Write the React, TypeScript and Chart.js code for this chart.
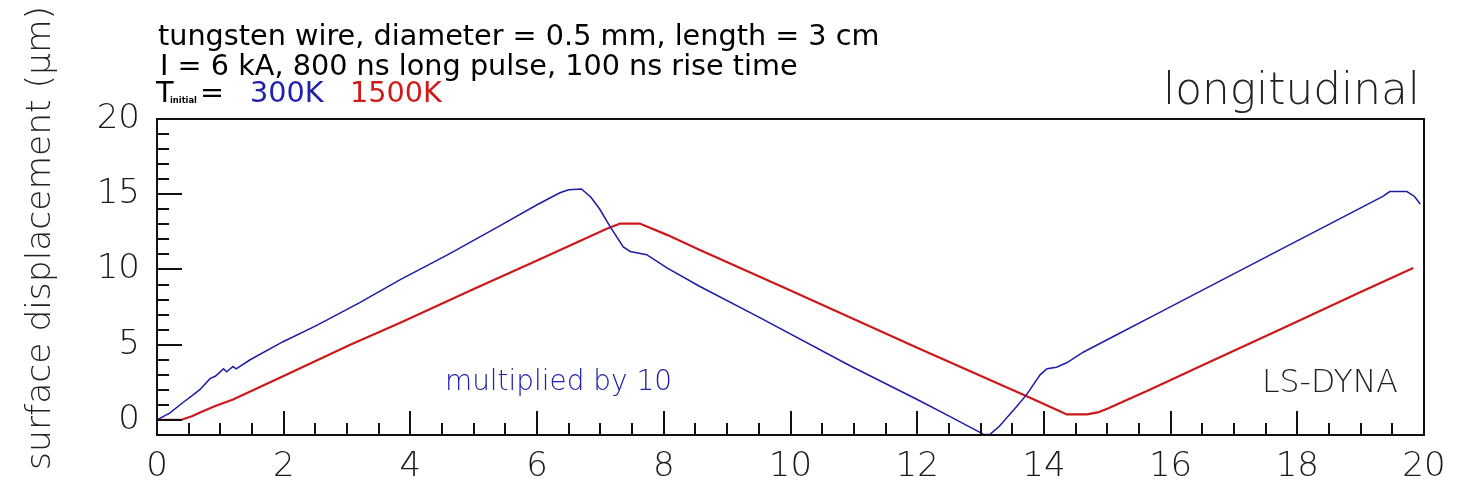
import React, { useEffect, useRef } from "react";
import { Chart, registerables } from "chart.js";

Chart.register(...registerables);

// ---- data ----
const blueX = [0, 0.2, 0.41, 0.55, 0.68, 0.84, 0.92, 0.99, 1.05, 1.1, 1.2, 1.25, 1.47, 1.99, 2.53, 3.2, 3.84, 4.6, 5.41, 6.0, 6.36, 6.5, 6.7, 6.85, 6.99, 7.15, 7.36, 7.47, 7.73, 8.05, 8.57, 9.5, 10.94, 12.0, 12.52, 12.99, 13.05, 13.15, 13.3, 13.57, 13.73, 13.94, 14.05, 14.2, 14.36, 14.62, 15.15, 15.67, 16.2, 17.77, 18.5, 19.35, 19.46, 19.73, 19.85, 19.94];
const blueY = [0, 0.45, 1.16, 1.6, 2.03, 2.76, 2.9, 3.16, 3.4, 3.2, 3.55, 3.4, 4.0, 5.2, 6.3, 7.8, 9.33, 11.0, 12.9, 14.3, 15.1, 15.3, 15.35, 14.8, 14.0, 12.86, 11.5, 11.2, 10.98, 10.1, 8.87, 6.83, 3.6, 1.36, 0.22, -0.83, -0.96, -0.96, -0.4, 0.9, 1.7, 3.0, 3.4, 3.5, 3.8, 4.5, 5.66, 6.8, 7.96, 11.4, 13.0, 14.86, 15.18, 15.18, 14.85, 14.35];

const redX = [0, 0.2, 0.4, 0.55, 0.68, 0.9, 1.2, 1.99, 3.05, 3.84, 5.0, 6.0, 7.1, 7.31, 7.62, 8.05, 8.57, 10.0, 12.0, 13.31, 13.73, 14.2, 14.36, 14.68, 14.85, 15.0, 15.67, 16.46, 17.77, 19.0, 19.83];
const redY = [0, 0, 0.03, 0.25, 0.5, 0.9, 1.36, 2.9, 5.0, 6.46, 8.7, 10.6, 12.7, 13.05, 13.05, 12.3, 11.3, 8.6, 4.8, 2.36, 1.57, 0.68, 0.37, 0.37, 0.5, 0.75, 2.0, 3.55, 6.1, 8.5, 10.1];

const xMajorTicks = [0, 2, 4, 6, 8, 10, 12, 14, 16, 18, 20];
const xMinorTicks = [0.5, 1, 1.5, 2.5, 3, 3.5, 4.5, 5, 5.5, 6.5, 7, 7.5, 8.5, 9, 9.5, 10.5, 11, 11.5, 12.5, 13, 13.5, 14.5, 15, 15.5, 16.5, 17, 17.5, 18.5, 19, 19.5];
const yMajorTicks = [0, 5, 10, 15, 20];
const yMinorTicks = [1, 2, 3, 4, 6, 7, 8, 9, 11, 12, 13, 14, 16, 17, 18, 19];

const X_MIN = 0, X_MAX = 20, Y_MIN = -1, Y_MAX = 20;

const BLUE = "#1c1ca6";
const RED = "#cc1818";
const TEXT_BLUE = "#2020b0";
const TEXT_RED = "#d01a1a";
const FAMILY = "'DejaVu Sans', 'Liberation Sans', sans-serif";

function fitText(
  ctx: CanvasRenderingContext2D,
  text: string,
  x: number,
  y: number,
  w: number,
  weight: string,
  color: string,
  align: CanvasTextAlign = "left"
) {
  ctx.font = `${weight} 100px ${FAMILY}`;
  const m = ctx.measureText(text).width;
  const size = (100 * w) / m;
  ctx.font = `${weight} ${size}px ${FAMILY}`;
  ctx.fillStyle = color;
  ctx.textAlign = align;
  ctx.textBaseline = "alphabetic";
  ctx.fillText(text, x, y);
  return size;
}

function plainText(
  ctx: CanvasRenderingContext2D,
  text: string,
  x: number,
  y: number,
  size: number,
  weight: string,
  color: string
) {
  ctx.font = `${weight} ${size}px ${FAMILY}`;
  ctx.fillStyle = color;
  ctx.textAlign = "left";
  ctx.textBaseline = "alphabetic";
  ctx.fillText(text, x, y);
}

const framePlugin = {
  id: "frame",
  afterDatasetsDraw(chart: any) {
    const ctx: CanvasRenderingContext2D = chart.ctx;
    const { left, right, top, bottom } = chart.chartArea;
    const xs = chart.scales.x;
    const ys = chart.scales.y;
    ctx.save();
    ctx.strokeStyle = "#111";
    ctx.lineWidth = 2;
    ctx.strokeRect(left, top, right - left, bottom - top);
    ctx.beginPath();
    xMajorTicks.forEach((v) => {
      const px = Math.round(xs.getPixelForValue(v));
      ctx.moveTo(px, bottom);
      ctx.lineTo(px, bottom - 24);
    });
    xMinorTicks.forEach((v) => {
      const px = Math.round(xs.getPixelForValue(v));
      ctx.moveTo(px, bottom);
      ctx.lineTo(px, bottom - 12);
    });
    yMajorTicks.forEach((v) => {
      const py = Math.round(ys.getPixelForValue(v));
      ctx.moveTo(left, py);
      ctx.lineTo(left + 25, py);
    });
    yMinorTicks.forEach((v) => {
      const py = Math.round(ys.getPixelForValue(v));
      ctx.moveTo(left, py);
      ctx.lineTo(left + 12, py);
    });
    ctx.stroke();
    ctx.restore();
  },
};

const textPlugin = {
  id: "texts",
  afterDraw(chart: any) {
    const ctx: CanvasRenderingContext2D = chart.ctx;
    ctx.save();
    // header lines
    const s1 = fitText(ctx, "tungsten wire, diameter = 0.5 mm, length = 3 cm", 158, 45, 722, "normal", "#000");
    fitText(ctx, "I = 6 kA, 800 ns long pulse, 100 ns rise time", 160, 75, 638, "normal", "#000");
    plainText(ctx, "T", 156, 102, s1, "normal", "#000");
    fitText(ctx, "initial", 170, 103, 27, "bold", "#000");
    plainText(ctx, "=", 200, 102, s1, "normal", "#000");
    plainText(ctx, "300K", 250, 102, s1, "normal", TEXT_BLUE);
    plainText(ctx, "1500K", 350, 102, s1, "normal", TEXT_RED);
    // right label
    fitText(ctx, "longitudinal", 1420, 104, 257, "200", "#222", "right");
    // inner annotations
    fitText(ctx, "multiplied by 10", 445, 390, 227, "200", TEXT_BLUE);
    fitText(ctx, "LS-DYNA", 1262, 392, 136, "200", "#222");
    // y-axis title
    ctx.save();
    ctx.translate(50, 238);
    ctx.rotate(-Math.PI / 2);
    fitText(ctx, "surface displacement (\u03bcm)", 0, 0, 464, "200", "#222", "center");
    ctx.restore();
    ctx.restore();
  },
};

export default function App() {
  const ref = useRef<HTMLCanvasElement>(null);
  useEffect(() => {
    const canvas = ref.current!;
    const chart = new Chart(canvas, {
      type: "line",
      data: {
        datasets: [
          {
            label: "300K",
            data: blueX.map((x, i) => ({ x, y: blueY[i] })),
            borderColor: BLUE,
            borderWidth: 1.5,
            pointRadius: 0,
            tension: 0,
            fill: false,
          },
          {
            label: "1500K",
            data: redX.map((x, i) => ({ x, y: redY[i] })),
            borderColor: RED,
            borderWidth: 2.2,
            pointRadius: 0,
            tension: 0,
            fill: false,
          },
        ],
      },
      options: {
        responsive: false,
        animation: false,
        devicePixelRatio: 1,
        layout: { padding: { left: 0, top: 119, right: 34, bottom: 0 } },
        plugins: { legend: { display: false }, tooltip: { enabled: false }, title: { display: false } },
        scales: {
          x: {
            type: "linear",
            min: X_MIN,
            max: X_MAX,
            afterBuildTicks: (s: any) => {
              s.ticks = xMajorTicks.map((v) => ({ value: v }));
            },
            afterFit: (s: any) => {
              s.height = 56;
            },
            grid: { display: false, drawTicks: false },
            border: { display: false },
            ticks: {
              padding: 12,
              autoSkip: false,
              maxRotation: 0,
              color: "#1a1a1a",
              font: { family: FAMILY, size: 34, weight: "200" as any },
            },
          },
          y: {
            type: "linear",
            min: Y_MIN,
            max: Y_MAX,
            afterBuildTicks: (s: any) => {
              s.ticks = yMajorTicks.map((v) => ({ value: v }));
            },
            afterFit: (s: any) => {
              s.width = 157;
            },
            grid: { display: false, drawTicks: false },
            border: { display: false },
            ticks: {
              padding: 17,
              autoSkip: false,
              color: "#1a1a1a",
              font: { family: FAMILY, size: 34, weight: "200" as any },
            },
          },
        },
      },
      plugins: [framePlugin, textPlugin],
    } as any);
    return () => chart.destroy();
  }, []);
  return (
    <div style={{ position: "fixed", left: 0, top: 0, width: 1458, height: 491, background: "#fff" }}>
      <canvas ref={ref} width={1458} height={491} style={{ width: 1458, height: 491, display: "block" }} />
    </div>
  );
}
